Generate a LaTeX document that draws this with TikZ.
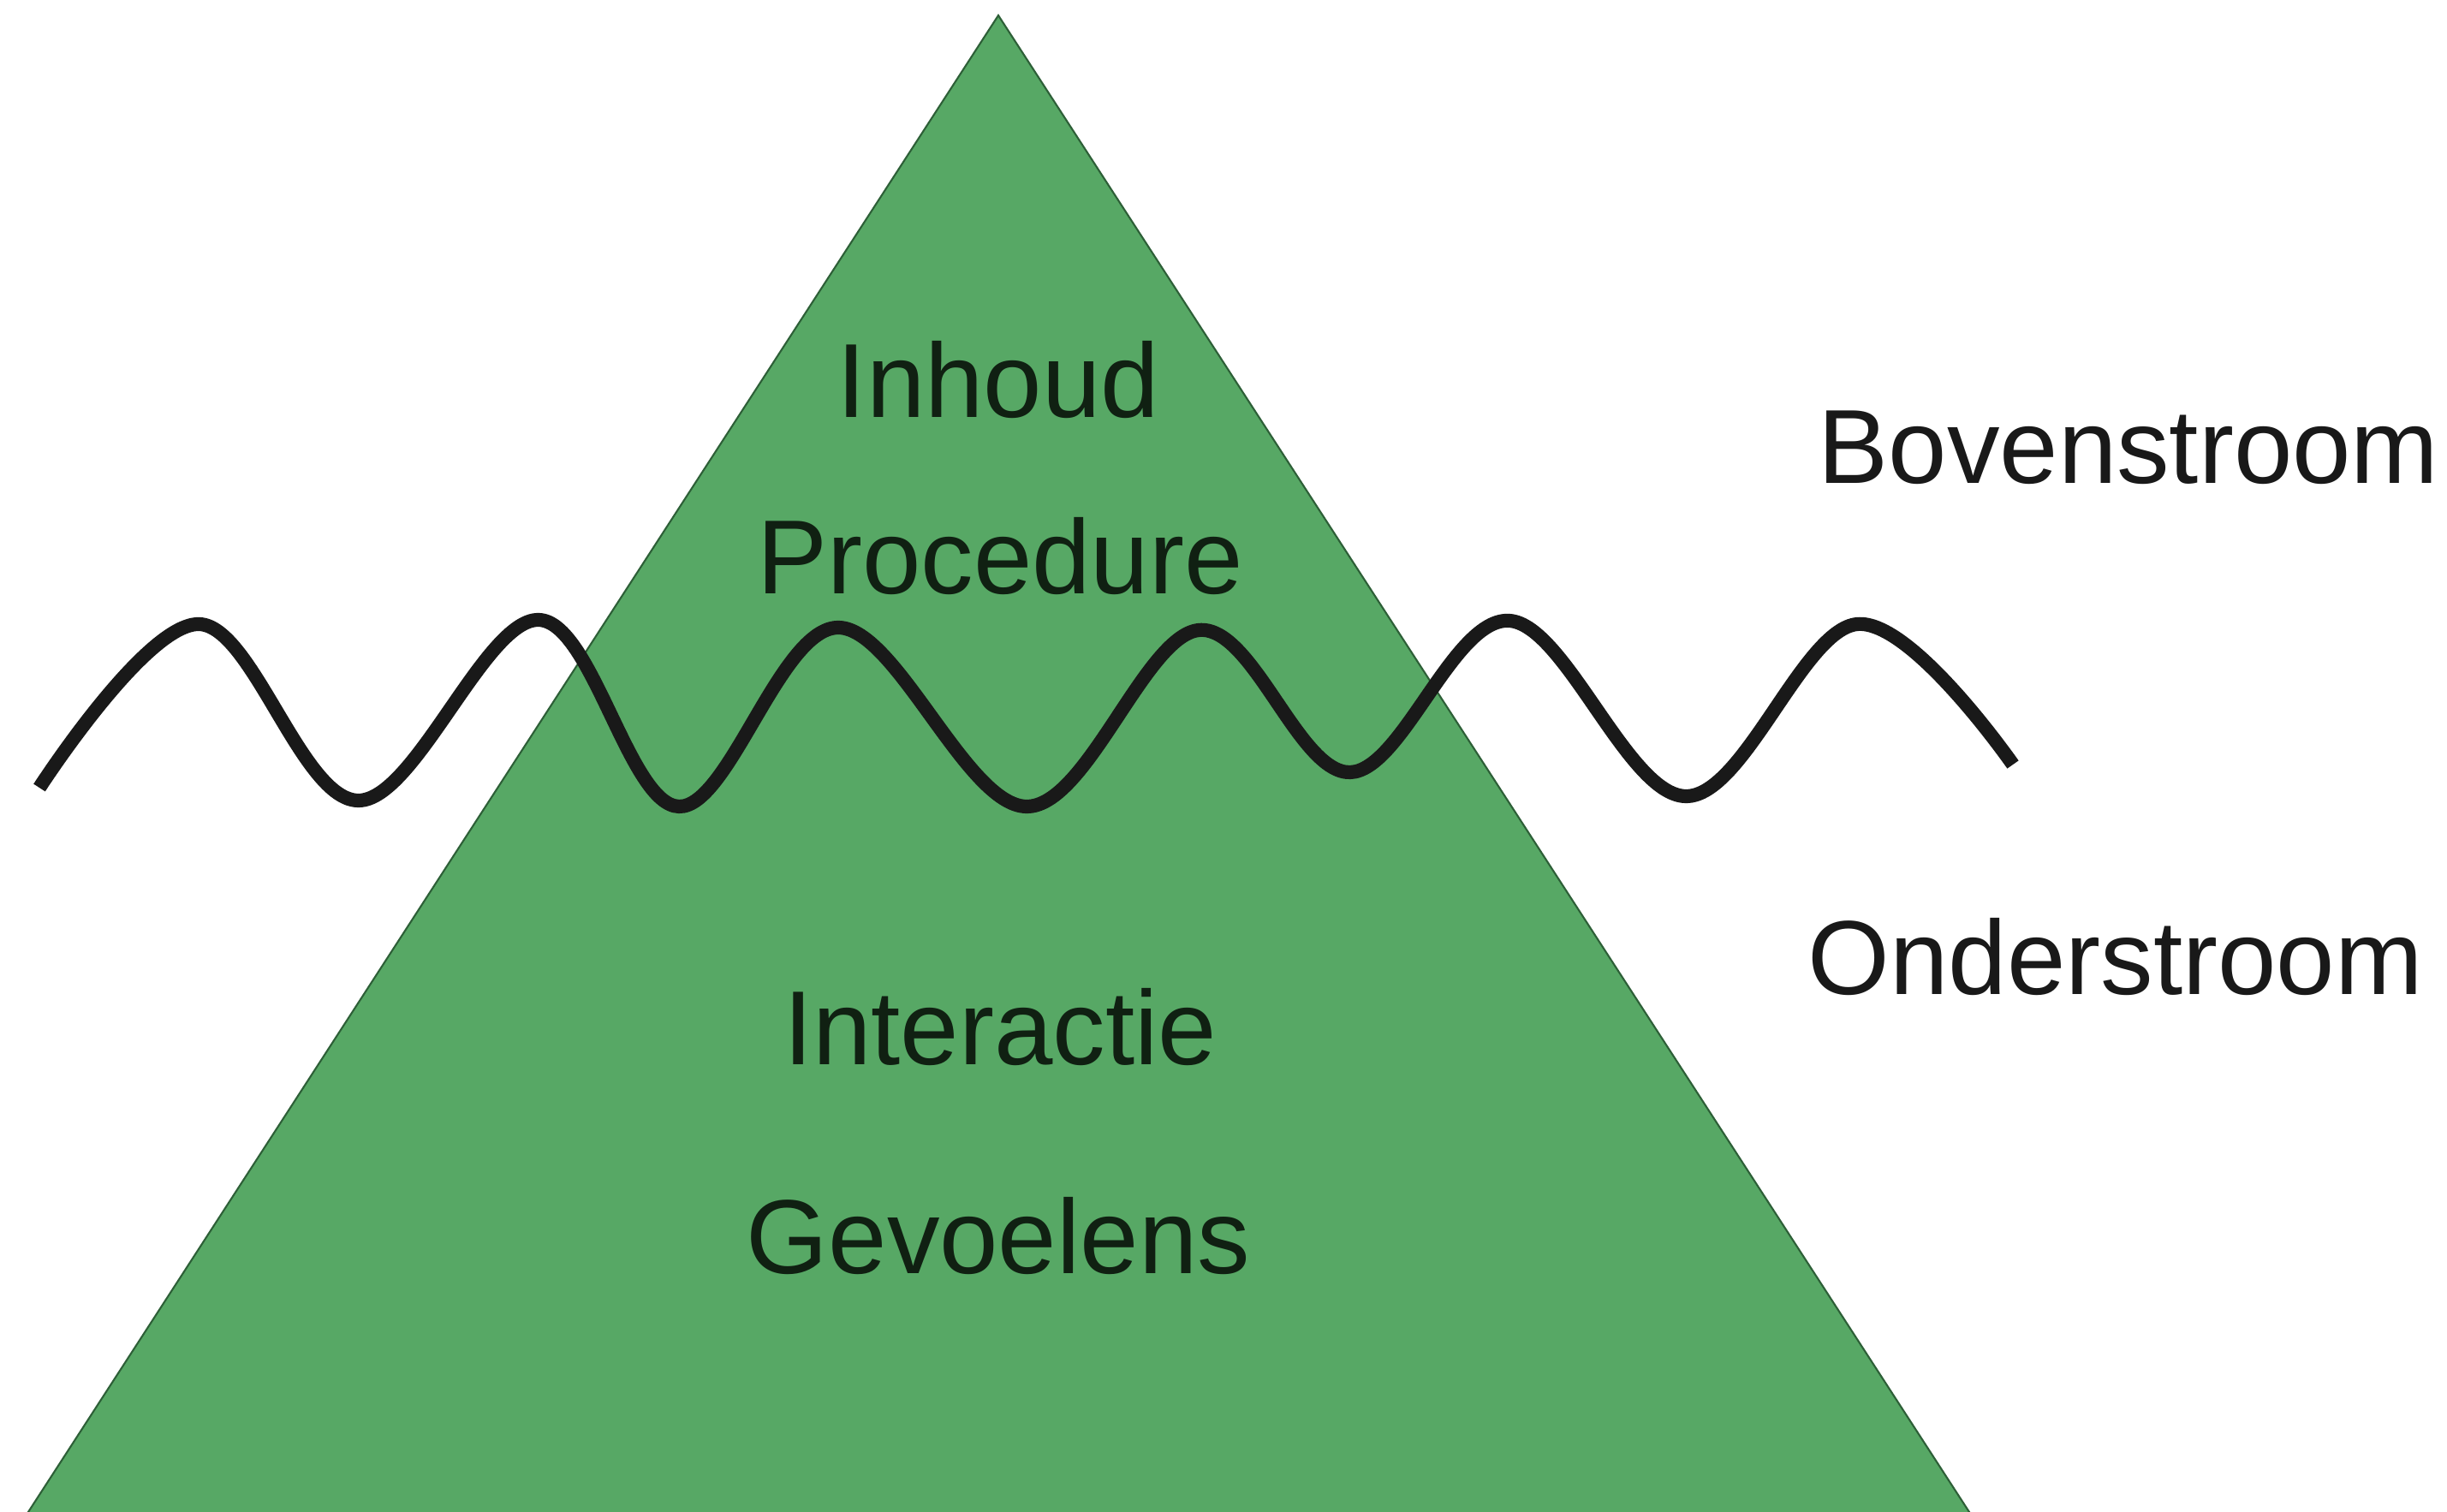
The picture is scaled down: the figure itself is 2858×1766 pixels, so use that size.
\documentclass[tikz,border=0pt]{standalone}
\usepackage{fontspec}
\setmainfont{Liberation Sans}
\usetikzlibrary{positioning}
\definecolor{berggroen}{RGB}{87,168,101}
\definecolor{bergrand}{RGB}{45,95,55}
\definecolor{tekstdonker}{RGB}{16,32,18}
\tikzset{
  laag/.style={anchor=base,text=tekstdonker,font=\fontsize{35}{42}\selectfont,inner sep=0pt},
  stroom/.style={anchor=base west,text=black!90,font=\fontsize{35}{42}\selectfont,inner sep=0pt},
  golf/.style={line width=4.6pt,black!90,line cap=butt}
}
\begin{document}
\begin{tikzpicture}[x=0.1mm,y=-0.1mm]
\useasboundingbox (0,0) rectangle (2858,1766);
\begin{scope}
\clip (0,0) rectangle (2858,1766);
\filldraw[fill=berggroen,draw=bergrand,line width=0.6pt] (1166,18) -- (2335,1820) -- (-2,1820) -- cycle;
\end{scope}
\node[laag] (inhoud) at (1166,488) {Inhoud};
\node[laag] (procedure) at (1168,694) {Procedure};
\node[laag] (interactie) at (1168,1243) {Interactie};
\node[laag] (gevoelens) at (1166,1487) {Gevoelens};
\node[stroom] (boven) at (2123,565) {Bovenstroom};
\node[stroom] (onder) at (2111,1161) {Onderstroom};
\draw[golf] plot[smooth,tension=0.6] coordinates {(46,920) (233,729) (419,935) (629,724) (793,942) (979,733) (1199,942) (1400,736) (1577,902) (1763,725) (1969,930) (2169,729) (2351,893)};
\end{tikzpicture}
\end{document}
